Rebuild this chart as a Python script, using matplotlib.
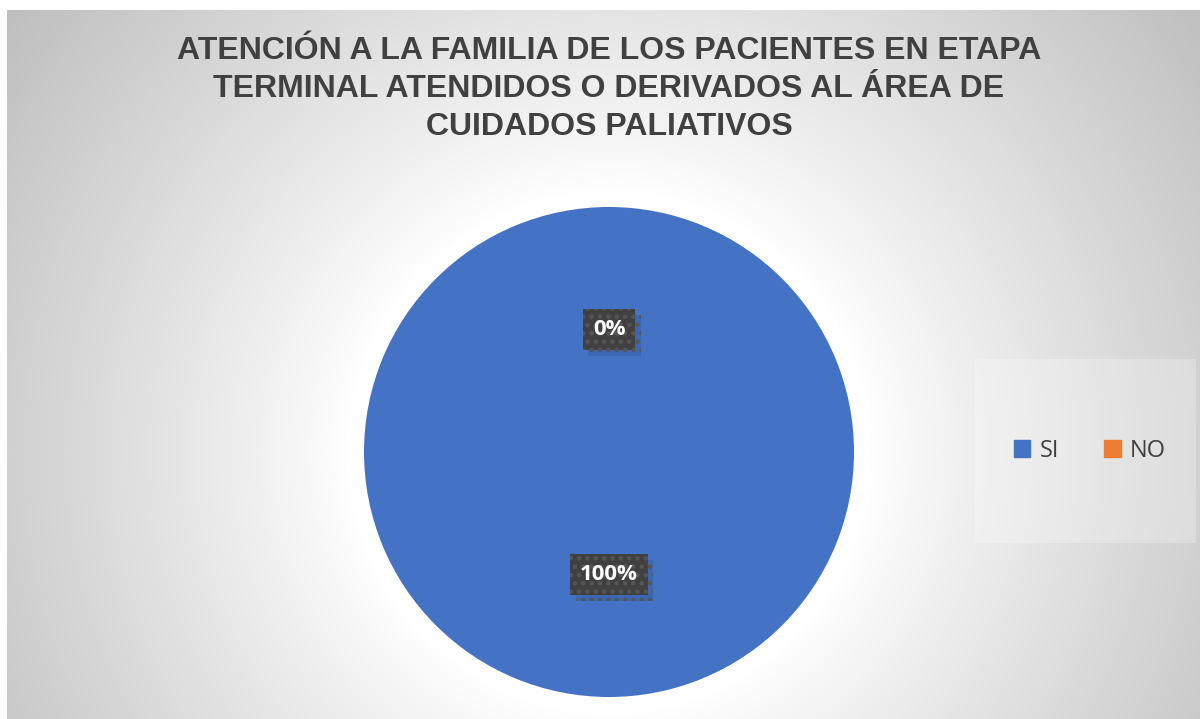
import numpy as np
import matplotlib.pyplot as plt
import matplotlib.patheffects as pe
from matplotlib.patches import Rectangle

categories = ['SI', 'NO']
values = [100, 0]
colors = ['#4472c4', '#ed7d31']
title = 'ATENCIÓN A LA FAMILIA DE LOS PACIENTES EN ETAPA\nTERMINAL ATENDIDOS O DERIVADOS AL ÁREA DE\nCUIDADOS PALIATIVOS'

plt.rcParams['hatch.linewidth'] = 2.0

W, H = 1200, 719
fig = plt.figure(figsize=(W / 100, H / 100), dpi=100)

# radial gradient background (chart area starts a few px in from left/top)
bg = fig.add_axes([7 / W, 0, 1 - 7 / W, 1 - 10 / H])
bg.axis('off')
yy, xx = np.mgrid[10:H, 7:W]
dist = np.hypot(xx - 609, yy - 452)
gray = 1 - 0.25 * np.clip((dist - 260) / 480, 0, 1) ** 0.9
bg.imshow(np.dstack([gray] * 3), aspect='auto', extent=[0, 1, 0, 1])

# legend box
bg.add_patch(Rectangle(((975 - 7) / (W - 7), (H - 543) / (H - 10)),
                       221 / (W - 7), 184 / (H - 10),
                       facecolor='white', alpha=0.25, edgecolor='none'))

fig.text(609 / W, 1 - 89 / H, title, ha='center', va='center',
         family='Liberation Sans', weight='bold', fontsize=23,
         color='#404040', linespacing=1.33)

ax = fig.add_axes([364 / W, 22 / H, 490 / W, 490 / H])
wedges, texts = ax.pie(values, colors=colors, startangle=90, counterclock=False,
                       wedgeprops=dict(linewidth=0))
ax.set_xlim(-1, 1)
ax.set_ylim(-1, 1)
ax.set_aspect('equal')

total = sum(values)
for w, v in zip(wedges, values):
    mid = np.deg2rad((w.theta1 + w.theta2) / 2)
    x, y = 0.5 * np.cos(mid), 0.5 * np.sin(mid)
    lbl = '{:.0f}%'.format(100 * v / total)
    t = ax.text(x, y, lbl, ha='center', va='center', fontsize=16, weight='bold',
                family='Open Sans', color='white',
                bbox=dict(boxstyle='square,pad=0.45', fc='#404040',
                          ec='#555555', lw=0, hatch='..'))
    t.get_bbox_patch().set_path_effects([
        pe.SimplePatchShadow(offset=(4, -4), shadow_rgbFace='#2f5496', alpha=0.35),
        pe.Normal()])

handles = [Rectangle((0, 0), 1, 1, color=c) for c in colors]
fig.legend(handles, categories, loc='center', bbox_to_anchor=(1090 / W, 1 - 451 / H),
           ncol=2, frameon=False, prop=dict(family='Open Sans', size=17),
           labelcolor='#404040', handlelength=0.7, handleheight=0.7,
           handletextpad=0.4, columnspacing=1.9)

fig.savefig('out.png', dpi=100)
